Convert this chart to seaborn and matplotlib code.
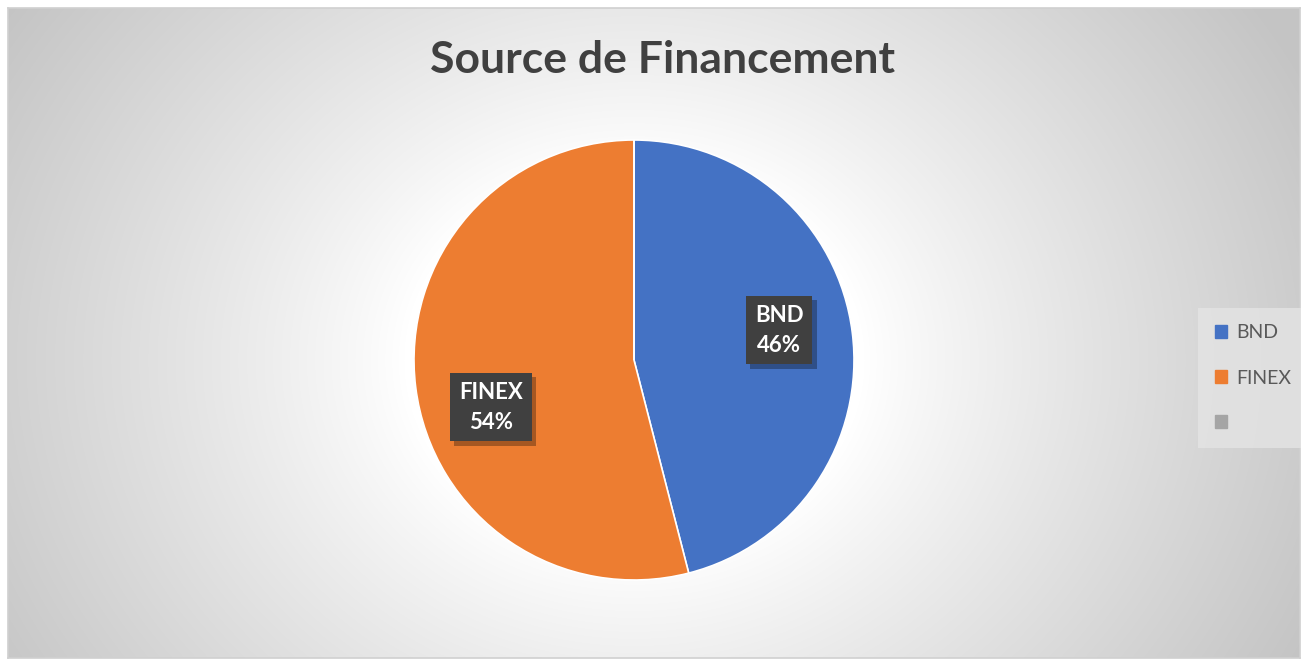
import numpy as np
import matplotlib
matplotlib.use("Agg")
import matplotlib.pyplot as plt
import matplotlib.patches as mpatches
import matplotlib.patheffects as pe
import seaborn as sns

# Data
categories = ["BND", "FINEX", ""]
values = [46, 54, 0]
colors = ["#4472C4", "#ED7D31", "#A5A5A5"]
title = "Source de Financement"

sns.set_theme(style="white")
plt.rcParams['font.family'] = ['Lato', 'DejaVu Sans']

W, H = 1301, 660
fig = plt.figure(figsize=(W / 100, H / 100), dpi=100)
fig.patch.set_facecolor("white")

# background panel with radial gradient
L, T, R, B = 8, 8, 1300, 658
bg = fig.add_axes([L / W, (H - B) / H, (R - L) / W, (B - T) / H])
yy, xx = np.mgrid[T:B, L:R]
cx, cy = 634, 360
r = np.sqrt(((xx - cx) / 1.0) ** 2 + ((yy - cy) / 0.85) ** 2)
t = np.clip((r - 230) / 520, 0, 1) ** 0.9
val = 1 - 0.23 * t
bg.imshow(np.dstack([val, val, val]), aspect="auto", extent=[0, 1, 0, 1])
bg.set_xticks([]); bg.set_yticks([])
for s in bg.spines.values():
    s.set_color("#d0d0d0"); s.set_linewidth(1.2)

# pie
rad = 220
ax = fig.add_axes([(cx - rad) / W, (H - cy - rad) / H, 2 * rad / W, 2 * rad / H])
wedges, _ = ax.pie(values, colors=colors, startangle=90, counterclock=False,
                   radius=1, wedgeprops=dict(linewidth=1.2, edgecolor="white"))
ax.set_xlim(-1, 1); ax.set_ylim(-1, 1)
ax.set_aspect("equal")
ax.axis("off")

# labels
total = sum(values)
label_pos = {"BND": (0.66, 0.135), "FINEX": (-0.65, -0.215)}
for cat, v in zip(categories, values):
    if v == 0:
        continue
    x, y = label_pos[cat]
    txt = ax.text(x, y, f"{cat}\n{round(100 * v / total)}%", ha="center", va="center",
                  color="white", fontsize=16, fontweight="bold", linespacing=1.5,
                  bbox=dict(boxstyle="square,pad=0.4", fc="#404040", ec="none"))
    txt.get_bbox_patch().set_path_effects([
        pe.SimplePatchShadow(offset=(3, -3), shadow_rgbFace="black", alpha=0.3),
        pe.Normal()])

# title
fig.text(663 / W, 1 - 60 / H, title, ha="center", va="center", fontsize=32,
         fontweight="bold", color="#404040")

# legend
handles = [mpatches.Patch(color=c, label=l) for c, l in zip(colors, categories)]
leg = fig.legend(handles=handles, loc="center left", bbox_to_anchor=(1204 / W, 1 - 378 / H),
                 frameon=True, fontsize=14, labelcolor="#595959", handlelength=0.65,
                 handleheight=0.65, handletextpad=0.45, labelspacing=1.45,
                 borderpad=0.55, borderaxespad=0)
leg.get_frame().set_facecolor("#e4e4e4")
leg.get_frame().set_edgecolor("none")
leg.get_frame().set_boxstyle("square")

fig.savefig("out.png", dpi=100)
